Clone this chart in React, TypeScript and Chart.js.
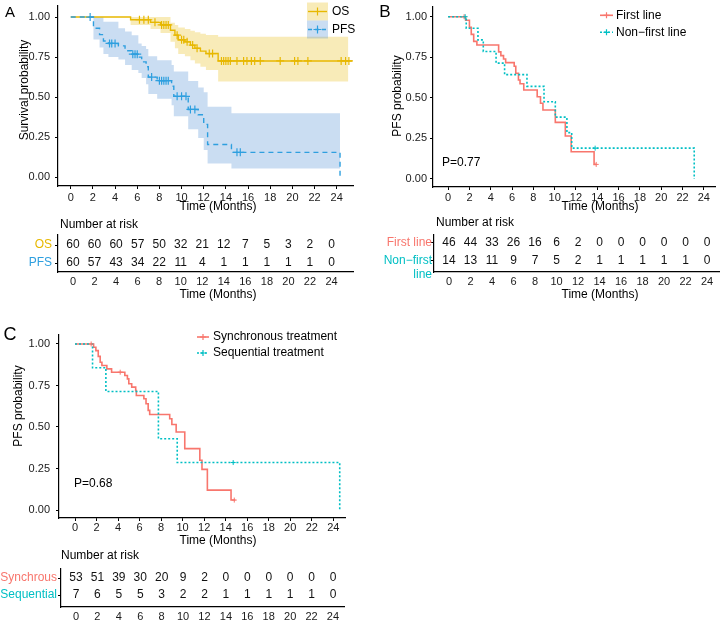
import React, { useEffect, useRef } from 'react';
import { Chart, registerables } from 'chart.js';

Chart.register(...registerables);

const FONT = '"Liberation Sans", Arial, Helvetica, sans-serif';
Chart.defaults.font.family = FONT;

// ---------- shared ticks ----------
const timeTicks = [0, 2, 4, 6, 8, 10, 12, 14, 16, 18, 20, 22, 24];
const probTicks = [0, 0.25, 0.5, 0.75, 1];

// ---------- Panel A : OS / PFS ----------
const osTimes = [0, 5.4, 7.2, 8.1, 9.0, 9.4, 9.7, 10.3, 10.8, 11.2, 11.7, 12.2, 13.3, 25.4];
const osSurv = [1, 0.983, 0.967, 0.951, 0.918, 0.887, 0.858, 0.845, 0.825, 0.805, 0.787, 0.772, 0.726, 0.726];
const osBandTimes = [0, 5.4, 7.2, 8.1, 9.0, 9.4, 9.7, 10.3, 10.8, 11.2, 11.7, 12.2, 13.3, 25.05];
const osUpper = [1, 1, 1, 1, 0.965, 0.95, 0.935, 0.925, 0.915, 0.905, 0.895, 0.888, 0.877, 0.877];
const osLower = [1, 0.95, 0.925, 0.9, 0.845, 0.805, 0.77, 0.755, 0.73, 0.71, 0.69, 0.67, 0.598, 0.598];
const osCensor = [6.2, 6.6, 7.0, 7.6, 8.2, 8.4, 8.6, 8.8, 9.6, 10.0, 10.2, 10.5, 11.0, 11.4, 12.5, 12.8,
  13.6, 13.8, 14.0, 14.2, 14.4, 15.0, 15.6, 15.9, 16.3, 16.6, 17.1, 18.9, 20.2, 20.5, 21.4, 24.4, 24.8, 25.1];

const pfsTimes = [0, 2.05, 2.6, 2.95, 3.4, 4.3, 4.9, 5.5, 6.1, 6.4, 6.8, 7.0, 7.8, 9.1, 9.3, 10.6, 11.5, 12.0, 12.35, 14.5, 24.3];
const pfsSurv = [1, 0.93, 0.89, 0.85, 0.835, 0.82, 0.79, 0.768, 0.75, 0.72, 0.69, 0.625, 0.603, 0.568, 0.505, 0.423, 0.39, 0.33, 0.204, 0.155, 0];
const pfsBandTimes = [0, 2.05, 2.6, 2.95, 3.4, 4.3, 4.9, 5.5, 6.1, 6.4, 6.8, 7.0, 7.8, 9.1, 9.3, 10.6, 11.5, 12.0, 12.35, 14.5, 24.3];
const pfsUpper = [1, 1, 1, 0.97, 0.97, 0.93, 0.91, 0.887, 0.835, 0.82, 0.8, 0.755, 0.73, 0.7, 0.66, 0.6, 0.56, 0.53, 0.44, 0.4, 0.4];
const pfsLower = [1, 0.86, 0.81, 0.77, 0.75, 0.735, 0.7, 0.67, 0.65, 0.62, 0.58, 0.52, 0.49, 0.45, 0.38, 0.3, 0.245, 0.17, 0.085, 0.055, 0.055];
const pfsCensor = [1.75, 3.5, 3.7, 4.0, 5.6, 5.8, 6.0, 7.3, 8.0, 8.2, 8.4, 8.6, 8.8, 9.6, 10.0, 10.4, 10.8, 11.2, 15.0, 15.3];

const riskOS = [60, 60, 60, 57, 50, 32, 21, 12, 7, 5, 3, 2, 0];
const riskPFS = [60, 57, 43, 34, 22, 11, 4, 1, 1, 1, 1, 1, 0];

// ---------- Panel B : first line / non-first line ----------
const firstTimes = [0, 1.64, 2.0, 2.17, 2.4, 2.7, 4.74, 4.95, 5.2, 5.4, 6.2, 6.35, 6.6, 6.75, 7.1, 8.36, 8.67, 8.9, 10.06, 11.0, 11.55, 13.7, 13.9];
const firstSurv = [1, 0.978, 0.935, 0.891, 0.848, 0.826, 0.783, 0.76, 0.739, 0.717, 0.695, 0.652, 0.61, 0.587, 0.548, 0.507, 0.467, 0.425, 0.349, 0.265, 0.168, 0.09, 0.09];
const firstCensor = [1.5, 13.9];
const nonFirstTimes = [0, 1.7, 2.8, 3.3, 4.5, 5.3, 7.4, 9.0, 10.06, 11.15, 11.6, 23.1];
const nonFirstSurv = [1, 0.929, 0.857, 0.786, 0.714, 0.643, 0.571, 0.476, 0.381, 0.286, 0.19, 0];
const nonFirstCensor = [1.6, 13.8];

const riskFirst = [46, 44, 33, 26, 16, 6, 2, 0, 0, 0, 0, 0, 0];
const riskNonFirst = [14, 13, 11, 9, 7, 5, 2, 1, 1, 1, 1, 1, 0];

// ---------- Panel C : synchronous / sequential ----------
const syncTimes = [0, 1.73, 1.94, 2.16, 2.34, 2.5, 2.96, 3.4, 4.63, 4.87, 5.0, 5.27, 5.64, 5.7, 6.4, 6.6, 6.8, 6.94, 8.8, 9.0, 9.4, 10.2, 11.6, 11.8, 12.3, 14.5, 14.9];
const syncSurv = [1, 0.98, 0.96, 0.925, 0.89, 0.87, 0.85, 0.83, 0.81, 0.79, 0.76, 0.74, 0.72, 0.69, 0.67, 0.64, 0.6, 0.575, 0.55, 0.515, 0.47, 0.37, 0.3, 0.245, 0.12, 0.06, 0.06];
const syncCensor = [1.5, 4.2, 14.8];
const seqTimes = [0, 1.63, 2.87, 7.75, 9.5, 24.6];
const seqSurv = [1, 0.857, 0.714, 0.429, 0.286, 0];
const seqCensor = [14.7];

const riskSync = [53, 51, 39, 30, 20, 9, 2, 0, 0, 0, 0, 0, 0];
const riskSeq = [7, 6, 5, 5, 3, 2, 2, 1, 1, 1, 1, 1, 0];

// ---------- colours ----------
const OS_COLOR = '#E7B800';
const PFS_COLOR = '#2E9FDF';
const OS_BAND = 'rgba(231,184,0,0.28)';
const PFS_BAND = 'rgba(65,132,208,0.28)';
const RED = '#F8766D';
const TEAL = '#00BFC4';
const AXIS = '#000000';
const TICK = '#1a1a1a';

// ---------- helpers ----------
type Pt = { x: number; y: number };

function stepPoints(times: number[], surv: number[]): Pt[] {
  const pts: Pt[] = [];
  times.forEach((t, i) => {
    if (i > 0) pts.push({ x: t, y: surv[i - 1] });
    pts.push({ x: t, y: surv[i] });
  });
  return pts;
}

function survAt(times: number[], surv: number[], t: number): number {
  let v = surv[0];
  for (let i = 0; i < times.length; i++) if (times[i] <= t) v = surv[i];
  return v;
}

function curveSet(times: number[], surv: number[], color: string, dash: number[], width: number, order: number) {
  return {
    data: stepPoints(times, surv),
    borderColor: color,
    backgroundColor: color,
    borderWidth: width,
    borderDash: dash,
    pointRadius: 0,
    fill: false,
    tension: 0,
    order,
  };
}

function censorSet(times: number[], surv: number[], cens: number[], color: string, r: number, w: number, order: number) {
  return {
    data: cens.map((t) => ({ x: t, y: survAt(times, surv, t) })),
    showLine: false,
    pointStyle: 'cross',
    pointRadius: r,
    pointBorderWidth: w,
    pointBorderColor: color,
    pointBackgroundColor: color,
    borderColor: color,
    backgroundColor: color,
    order,
  };
}

function bandSets(times: number[], upper: number[], lower: number[], fillColor: string, order: number) {
  return [
    {
      data: stepPoints(times, upper),
      borderWidth: 0,
      borderColor: 'transparent',
      pointRadius: 0,
      fill: '+1',
      backgroundColor: fillColor,
      tension: 0,
      order,
    },
    {
      data: stepPoints(times, lower),
      borderWidth: 0,
      borderColor: 'transparent',
      backgroundColor: 'transparent',
      pointRadius: 0,
      fill: false,
      tension: 0,
      order,
    },
  ];
}

const zeroPad = (sc: any) => {
  sc.paddingTop = 0;
  sc.paddingBottom = 0;
  sc.paddingLeft = 0;
  sc.paddingRight = 0;
};

type MainSpec = {
  xMin: number; xMax: number; yMin: number; yMax: number;
  yW: number; xH: number; xPad: number; yPad: number; tickSize: number;
};

function mainScales(s: MainSpec) {
  return {
    x: {
      type: 'linear',
      min: s.xMin,
      max: s.xMax,
      afterBuildTicks: (sc: any) => { sc.ticks = timeTicks.map((v) => ({ value: v })); },
      afterFit: (sc: any) => { sc.height = s.xH; zeroPad(sc); },
      border: { display: true, color: AXIS, width: 1.2 },
      grid: { display: true, drawOnChartArea: false, drawTicks: true, tickLength: 3, color: AXIS, lineWidth: 1 },
      ticks: {
        autoSkip: false, maxRotation: 0, minRotation: 0, padding: s.xPad, color: TICK,
        font: { family: FONT, size: s.tickSize }, callback: (v: any) => String(v),
      },
    },
    y: {
      type: 'linear',
      min: s.yMin,
      max: s.yMax,
      afterBuildTicks: (sc: any) => { sc.ticks = probTicks.map((v) => ({ value: v })); },
      afterFit: (sc: any) => { sc.width = s.yW; zeroPad(sc); },
      border: { display: true, color: AXIS, width: 1.2 },
      grid: { display: true, drawOnChartArea: false, drawTicks: true, tickLength: 3, color: AXIS, lineWidth: 1 },
      ticks: {
        autoSkip: false, padding: s.yPad, color: TICK,
        font: { family: FONT, size: s.tickSize }, callback: (v: any) => Number(v).toFixed(2),
      },
    },
  };
}

type TableSpec = { xMin: number; xMax: number; yMin: number; yMax: number; yW: number; xH: number; xPad: number; tickSize: number };

function tableScales(s: TableSpec) {
  return {
    x: {
      type: 'linear',
      min: s.xMin,
      max: s.xMax,
      afterBuildTicks: (sc: any) => { sc.ticks = timeTicks.map((v) => ({ value: v })); },
      afterFit: (sc: any) => { sc.height = s.xH; zeroPad(sc); },
      border: { display: true, color: AXIS, width: 1.2 },
      grid: { display: true, drawOnChartArea: false, drawTicks: false },
      ticks: {
        autoSkip: false, maxRotation: 0, minRotation: 0, padding: s.xPad, color: TICK,
        font: { family: FONT, size: s.tickSize }, callback: (v: any) => String(v),
      },
    },
    y: {
      type: 'linear',
      min: s.yMin,
      max: s.yMax,
      afterBuildTicks: (sc: any) => { sc.ticks = [{ value: 1 }, { value: 2 }]; },
      afterFit: (sc: any) => { sc.width = s.yW; zeroPad(sc); },
      border: { display: true, color: AXIS, width: 1.2 },
      grid: { display: true, drawOnChartArea: false, drawTicks: true, tickLength: 3, color: AXIS, lineWidth: 1 },
      ticks: { display: false },
    },
  };
}

type TextItem = { text: string; x: number; y: number; size?: number; color?: string; align?: CanvasTextAlign; rotate?: number };

const textPlugin = (items: TextItem[]) => ({
  id: 'texts',
  afterDraw(chart: any) {
    const ctx = chart.ctx as CanvasRenderingContext2D;
    items.forEach((it) => {
      ctx.save();
      ctx.translate(it.x, it.y);
      if (it.rotate) ctx.rotate(it.rotate);
      ctx.font = `${it.size ?? 12}px ${FONT}`;
      ctx.fillStyle = it.color ?? '#000';
      ctx.textAlign = it.align ?? 'left';
      ctx.textBaseline = 'middle';
      ctx.fillText(it.text, 0, 0);
      ctx.restore();
    });
  },
});

type LegItem = { label: string; color: string; dash: number[]; fill?: string; y: number };
type LegSpec = { x0: number; x1: number; textX: number; boxH: number; crossR: number; lw: number; size: number };

const legendPlugin = (items: LegItem[], s: LegSpec) => ({
  id: 'kmLegend',
  afterDraw(chart: any) {
    const ctx = chart.ctx as CanvasRenderingContext2D;
    ctx.save();
    items.forEach((it) => {
      if (it.fill) {
        ctx.fillStyle = it.fill;
        ctx.fillRect(s.x0, it.y - s.boxH / 2, s.x1 - s.x0, s.boxH);
      }
      ctx.strokeStyle = it.color;
      ctx.lineWidth = s.lw;
      ctx.setLineDash(it.dash);
      ctx.beginPath();
      ctx.moveTo(s.x0 + 1, it.y);
      ctx.lineTo(s.x1 - 1, it.y);
      ctx.stroke();
      ctx.setLineDash([]);
      const cx = (s.x0 + s.x1) / 2;
      ctx.lineWidth = 1.2;
      ctx.beginPath();
      ctx.moveTo(cx - s.crossR, it.y);
      ctx.lineTo(cx + s.crossR, it.y);
      ctx.moveTo(cx, it.y - s.crossR);
      ctx.lineTo(cx, it.y + s.crossR);
      ctx.stroke();
      ctx.fillStyle = '#000';
      ctx.font = `${s.size}px ${FONT}`;
      ctx.textAlign = 'left';
      ctx.textBaseline = 'middle';
      ctx.fillText(it.label, s.textX, it.y);
    });
    ctx.restore();
  },
});

type RiskRow = { label: string[]; color: string; values: number[]; row: number };

const riskPlugin = (rows: RiskRow[], labelGap: number) => ({
  id: 'riskTable',
  afterDraw(chart: any) {
    const ctx = chart.ctx as CanvasRenderingContext2D;
    const { x, y } = chart.scales;
    const left = chart.chartArea.left;
    ctx.save();
    ctx.font = `12px ${FONT}`;
    ctx.textBaseline = 'middle';
    rows.forEach((r) => {
      const py = y.getPixelForValue(r.row);
      ctx.fillStyle = '#111';
      ctx.textAlign = 'center';
      timeTicks.forEach((t, i) => ctx.fillText(String(r.values[i]), x.getPixelForValue(t), py));
      ctx.fillStyle = r.color;
      ctx.textAlign = 'right';
      r.label.forEach((ln, j) => ctx.fillText(ln, left - labelGap, py + j * 14));
    });
    ctx.restore();
  },
});

function baseOptions(padding: any, scales: any) {
  return {
    responsive: false,
    maintainAspectRatio: false,
    animation: false,
    devicePixelRatio: 1,
    events: [],
    layout: { padding },
    plugins: {
      legend: { display: false },
      tooltip: { enabled: false },
      title: { display: false },
      colors: { enabled: false },
    },
    scales,
  };
}

// ---------- chart builders ----------
const buildAMain = () => ({
  type: 'line',
  data: {
    datasets: [
      ...bandSets(pfsBandTimes, pfsUpper, pfsLower, PFS_BAND, 6),
      ...bandSets(osBandTimes, osUpper, osLower, OS_BAND, 5),
      curveSet(osTimes, osSurv, OS_COLOR, [], 1.4, 3),
      curveSet(pfsTimes, pfsSurv, PFS_COLOR, [5, 4], 1.4, 2),
      censorSet(osTimes, osSurv, osCensor, OS_COLOR, 4, 1.2, 1),
      censorSet(pfsTimes, pfsSurv, pfsCensor, PFS_COLOR, 4, 1.2, 0),
    ],
  },
  options: baseOptions(
    { top: 3, right: 7, left: 0, bottom: 0 },
    mainScales({ xMin: -1.15, xMax: 25.47, yMin: -0.055, yMax: 1.074, yW: 58, xH: 30, xPad: 2, yPad: 5, tickSize: 11 })
  ),
  plugins: [
    textPlugin([
      { text: 'A', x: 10, y: 13, size: 15, align: 'center' },
      { text: 'Survival probability', x: 25, y: 90, rotate: -Math.PI / 2, align: 'center' },
      { text: 'Time (Months)', x: 218, y: 207, align: 'center' },
    ]),
    legendPlugin(
      [
        { label: 'OS', color: OS_COLOR, dash: [], fill: OS_BAND, y: 11.5 },
        { label: 'PFS', color: PFS_COLOR, dash: [4, 3], fill: PFS_BAND, y: 29.5 },
      ],
      { x0: 307, x1: 328, textX: 332, boxH: 18, crossR: 4, lw: 1.4, size: 12 }
    ),
  ],
});

const buildATable = () => ({
  type: 'line',
  data: { datasets: [] },
  options: baseOptions(
    { top: 19, right: 7, left: 0, bottom: 0 },
    tableScales({ xMin: -1.393, xMax: 25.996, yMin: 0.5, yMax: 2.556, yW: 58, xH: 32, xPad: 3, tickSize: 11 })
  ),
  plugins: [
    riskPlugin(
      [
        { label: ['OS'], color: OS_COLOR, values: riskOS, row: 2 },
        { label: ['PFS'], color: PFS_COLOR, values: riskPFS, row: 1 },
      ],
      6
    ),
    textPlugin([
      { text: 'Number at risk', x: 60, y: 9 },
      { text: 'Time (Months)', x: 218, y: 79, align: 'center' },
    ]),
  ],
});

const buildBMain = () => ({
  type: 'line',
  data: {
    datasets: [
      curveSet(firstTimes, firstSurv, RED, [], 1.6, 3),
      curveSet(nonFirstTimes, nonFirstSurv, TEAL, [2, 2], 1.6, 2),
      censorSet(firstTimes, firstSurv, firstCensor, RED, 2.5, 1, 1),
      censorSet(nonFirstTimes, nonFirstSurv, nonFirstCensor, TEAL, 2.5, 1, 0),
    ],
  },
  options: baseOptions(
    { top: 7, right: 2, left: 0, bottom: 0 },
    mainScales({ xMin: -1.42, xMax: 25.05, yMin: -0.0493, yMax: 1.0598, yW: 73, xH: 29, xPad: 1, yPad: 3, tickSize: 11 })
  ),
  plugins: [
    textPlugin([
      { text: 'B', x: 25, y: 12, size: 17, align: 'center' },
      { text: 'PFS probability', x: 38, y: 96, rotate: -Math.PI / 2, align: 'center' },
      { text: 'Time (Months)', x: 240, y: 207, align: 'center' },
      { text: 'P=0.77', x: 82, y: 163 },
    ]),
    legendPlugin(
      [
        { label: 'First line', color: RED, dash: [], y: 15.3 },
        { label: 'Non\u2212first line', color: TEAL, dash: [2, 2], y: 32.3 },
      ],
      { x0: 239, x1: 254, textX: 256, boxH: 0, crossR: 3, lw: 1.6, size: 12 }
    ),
  ],
});

const buildBTable = () => ({
  type: 'line',
  data: { datasets: [] },
  options: baseOptions(
    { top: 19, right: 1, left: 0, bottom: 0 },
    tableScales({ xMin: -1.395, xMax: 25.116, yMin: 0.389, yMax: 2.444, yW: 74, xH: 32, xPad: 3, tickSize: 11 })
  ),
  plugins: [
    riskPlugin(
      [
        { label: ['First line'], color: RED, values: riskFirst, row: 2 },
        { label: ['Non\u2212first', 'line'], color: TEAL, values: riskNonFirst, row: 1 },
      ],
      2
    ),
    textPlugin([
      { text: 'Number at risk', x: 76, y: 7 },
      { text: 'Time (Months)', x: 240, y: 79, align: 'center' },
    ]),
  ],
});

const buildCMain = () => ({
  type: 'line',
  data: {
    datasets: [
      curveSet(syncTimes, syncSurv, RED, [], 1.6, 3),
      curveSet(seqTimes, seqSurv, TEAL, [2, 2], 1.6, 2),
      censorSet(syncTimes, syncSurv, syncCensor, RED, 2.5, 1, 1),
      censorSet(seqTimes, seqSurv, seqCensor, TEAL, 2.5, 1, 0),
    ],
  },
  options: baseOptions(
    { top: 15, right: 15, left: 0, bottom: 0 },
    mainScales({ xMin: -1.487, xMax: 25.09, yMin: -0.048, yMax: 1.054, yW: 59, xH: 30, xPad: 0, yPad: 6, tickSize: 11 })
  ),
  plugins: [
    textPlugin([
      { text: 'C', x: 10, y: 15, size: 18, align: 'center' },
      { text: 'PFS probability', x: 19, y: 86, rotate: -Math.PI / 2, align: 'center' },
      { text: 'Time (Months)', x: 218, y: 221, align: 'center' },
      { text: 'P=0.68', x: 74, y: 164 },
    ]),
    legendPlugin(
      [
        { label: 'Synchronous treatment', color: RED, dash: [], y: 17 },
        { label: 'Sequential treatment', color: TEAL, dash: [2, 2], y: 33 },
      ],
      { x0: 196, x1: 210, textX: 213, boxH: 0, crossR: 3, lw: 1.6, size: 12 }
    ),
  ],
});

const buildCTable = () => ({
  type: 'line',
  data: { datasets: [] },
  options: baseOptions(
    { top: 21, right: 16, left: 0, bottom: 0 },
    tableScales({ xMin: -1.4, xMax: 25.03, yMin: 0.294, yMax: 2.53, yW: 61, xH: 14, xPad: 3, tickSize: 11 })
  ),
  plugins: [
    riskPlugin(
      [
        { label: ['Synchrous'], color: RED, values: riskSync, row: 2 },
        { label: ['Sequential'], color: TEAL, values: riskSeq, row: 1 },
      ],
      4
    ),
    textPlugin([{ text: 'Number at risk', x: 61, y: 8 }]),
  ],
});

// ---------- components ----------
type PanelProps = { left: number; top: number; width: number; height: number; build: () => any };

function ChartPanel({ left, top, width, height, build }: PanelProps) {
  const ref = useRef<HTMLCanvasElement | null>(null);
  useEffect(() => {
    if (!ref.current) return;
    const chart = new Chart(ref.current, build());
    return () => chart.destroy();
  }, [build]);
  return (
    <canvas
      ref={ref}
      width={width}
      height={height}
      style={{ position: 'absolute', left, top, width, height, display: 'block' }}
    />
  );
}

export default function App() {
  return (
    <div
      style={{
        position: 'fixed',
        left: 0,
        top: 0,
        width: 720,
        height: 621,
        overflow: 'hidden',
        background: '#ffffff',
      }}
    >
      <ChartPanel left={0} top={0} width={360} height={216} build={buildAMain} />
      <ChartPanel left={0} top={216} width={360} height={88} build={buildATable} />
      <ChartPanel left={360} top={0} width={360} height={216} build={buildBMain} />
      <ChartPanel left={360} top={216} width={360} height={88} build={buildBTable} />
      <ChartPanel left={0} top={320} width={360} height={228} build={buildCMain} />
      <ChartPanel left={0} top={548} width={360} height={73} build={buildCTable} />
    </div>
  );
}
